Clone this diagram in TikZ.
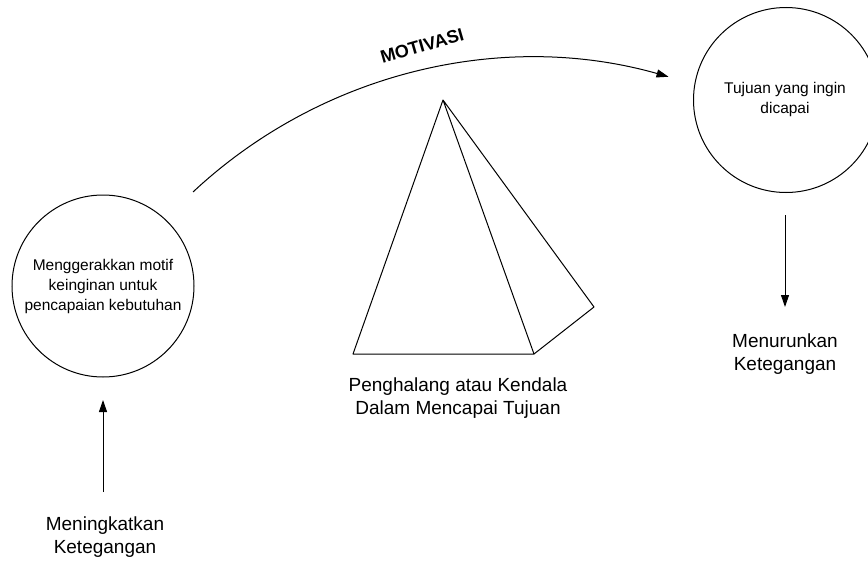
\documentclass[tikz,border=0pt]{standalone}
\usepackage{fontspec}
\setmainfont{Liberation Sans}
\usetikzlibrary{arrows.meta}
\begin{document}
\begin{tikzpicture}[x=1pt,y=-1pt,line width=1pt,
  tip/.style={-{Triangle[length=12pt,width=8pt]}},
  bubble/.style={draw,circle,align=center,inner sep=0pt},
  smalltext/.style={font=\fontsize{15.5}{20}\selectfont},
  bigtext/.style={align=center,font=\fontsize{19}{23}\selectfont}]
\useasboundingbox (0,0) rectangle (868,562);
\clip (0,0) rectangle (868,562);
% circles
\node[bubble,smalltext,minimum size=182pt] (c1) at (103,286)
  {Menggerakkan motif\\keinginan untuk\\pencapaian kebutuhan};
\node[bubble,minimum size=185pt] (c2) at (786,100) {};
\node[smalltext,align=center] (t2) at (785,99) {Tujuan yang ingin\\dicapai};
% labels
\node[bigtext] (lab1) at (105,537) {Meningkatkan\\Ketegangan};
\node[bigtext] (lab2) at (785,354) {Menurunkan\\Ketegangan};
\node[bigtext] (lab3) at (458,398) {Penghalang atau Kendala\\Dalam Mencapai Tujuan};
% pyramid
\coordinate (pa) at (443,100);
\coordinate (pbl) at (353,354);
\coordinate (pbr) at (534,354);
\coordinate (pr) at (594,307);
\draw[line join=round] (pa) -- (pbl) -- (pbr) -- (pa) -- (pr) -- (pbr);
% arrows
\coordinate (u0) at (103,492);
\coordinate (u1) at (103,400);
\draw[tip] (u0) -- (u1);
\coordinate (d0) at (785,215);
\coordinate (d1) at (785,307);
\draw[tip] (d0) -- (d1);
% motivation arc
\coordinate (m0) at (193,192);
\draw[tip] (m0) arc[start angle=133.05, end angle=74.2, radius=498pt] coordinate (m1);
\node[rotate=16,font=\fontsize{18}{20}\selectfont\bfseries] (mot) at (422,46) {MOTIVASI};
\end{tikzpicture}
\end{document}
